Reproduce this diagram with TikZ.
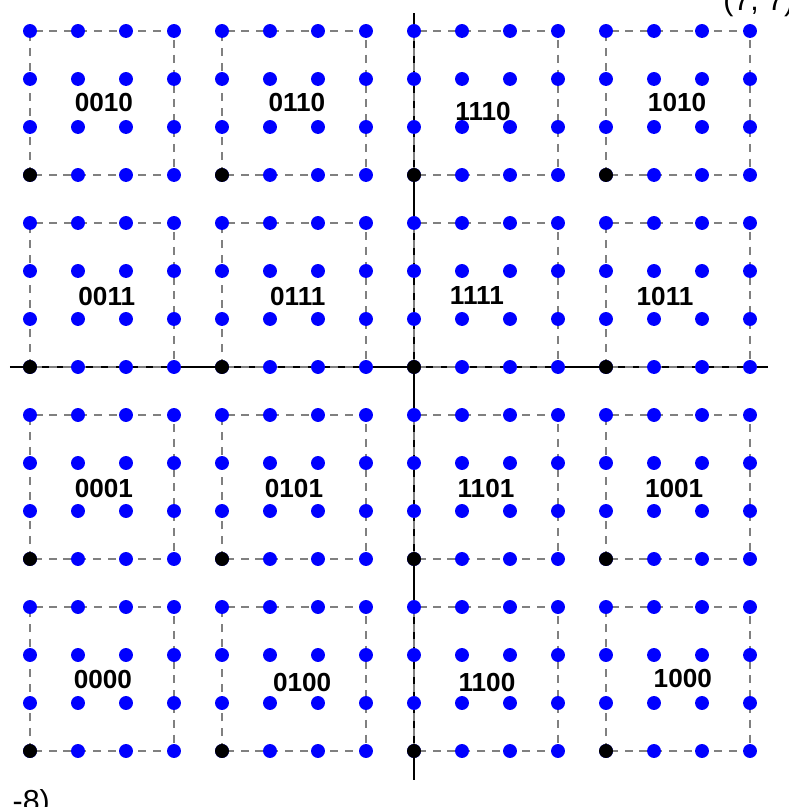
\documentclass[tikz,border=0pt]{standalone}
\usepackage{fontspec}
\setmainfont{Liberation Sans}
\usepackage{tikz}
\usetikzlibrary{positioning,calc}
\tikzstyle{dot} = [circle, fill=blue, inner sep=0pt, minimum size=0.29cm]
\tikzstyle{corner} = [dot, fill=black]
\tikzstyle{cell} = [draw=gray, line width=1.6pt, dash pattern=on 4.8pt off 4pt]
\tikzstyle{axis} = [draw, line width=1.2pt]
\tikzstyle{code} = [font=\fontsize{15.5}{18}\selectfont\bfseries, inner sep=0pt]
\tikzstyle{endlbl} = [font=\fontsize{18}{21}\selectfont, inner sep=0pt]

\begin{document}
\begin{tikzpicture}
    \useasboundingbox (-8.625,-9.1667) rectangle (7.7917,7.6458);

    \foreach \c in {0,...,15}
        \foreach \r in {0,...,15}
            \coordinate (p-\c-\r) at (\c-8,\r-8);
    \coordinate (xl) at (-8.42,0);
    \coordinate (xr) at (7.38,0);
    \coordinate (yt) at (0,7.38);
    \coordinate (yb) at (0,-8.6);

    \path [axis] (xl) -- (xr);
    \path [axis] (yb) -- (yt);

    \foreach \c in {0,4,8,12}
        \foreach \r in {0,4,8,12} {
            \pgfmathtruncatemacro{\cend}{\c+3}
            \pgfmathtruncatemacro{\rend}{\r+3}
            \path [cell] (p-\c-\r) rectangle (p-\cend-\rend);
        }

    \foreach \c in {0,...,15}
        \foreach \r in {0,...,15}
            \node [dot] (d-\c-\r) at (p-\c-\r) {};
    \foreach \c in {0,4,8,12}
        \foreach \r in {0,4,8,12}
            \node [corner] (k-\c-\r) at (p-\c-\r) {};

    \node [code] (b0010) at (-6.46,5.5) {0010};
    \node [code] (b0110) at (-2.44,5.5) {0110};
    \node [code] (b1110) at (1.44,5.33) {1110};
    \node [code] (b1010) at (5.48,5.5) {1010};
    \node [code] (b0011) at (-6.40,1.46) {0011};
    \node [code] (b0111) at (-2.42,1.46) {0111};
    \node [code] (b1111) at (1.31,1.48) {1111};
    \node [code] (b1011) at (5.23,1.46) {1011};
    \node [code] (b0001) at (-6.46,-2.54) {0001};
    \node [code] (b0101) at (-2.5,-2.54) {0101};
    \node [code] (b1101) at (1.5,-2.54) {1101};
    \node [code] (b1001) at (5.42,-2.54) {1001};
    \node [code] (b0000) at (-6.48,-6.5) {0000};
    \node [code] (b0100) at (-2.33,-6.58) {0100};
    \node [code] (b1100) at (1.52,-6.58) {1100};
    \node [code] (b1000) at (5.6,-6.48) {1000};

    \node [endlbl, anchor=base west] (top) at (6.44,7.42) {(7, 7)};
    \node [endlbl, anchor=north east] (bot) at (-7.58,-8.79) {(-8, -8)};
\end{tikzpicture}
\end{document}
